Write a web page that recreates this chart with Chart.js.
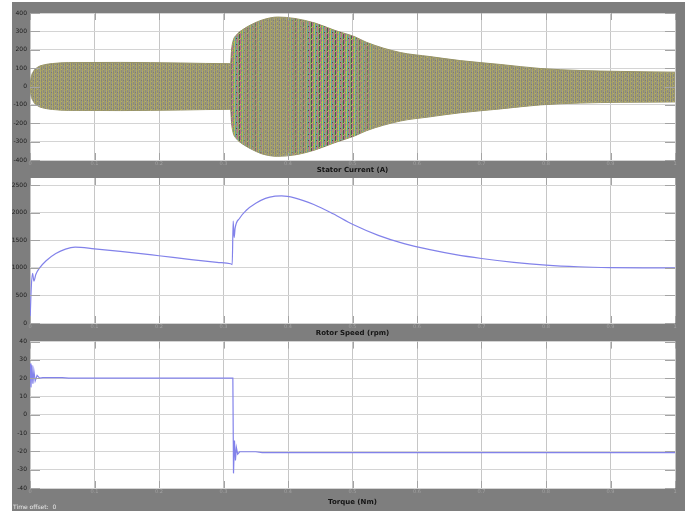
<!DOCTYPE html>
<html>
<head>
<meta charset="utf-8">
<script src="https://cdn.jsdelivr.net/npm/chart.js@4.4.0/dist/chart.umd.min.js"></script>
<style>
  html, body { margin: 0; padding: 0; background: #ffffff; width: 691px; height: 511px; overflow: hidden; }
  #frame { position: absolute; left: 12px; top: 2px; width: 673px; height: 509px; background: #7e7e7e; }
  canvas { position: absolute; left: 0; }
  #cCur { top: 0; }
  #cSpd { top: 170px; }
  #cTrq { top: 335px; }
  #offset { position: absolute; left: 13px; top: 503px; font: 6px "DejaVu Sans", sans-serif; color: #e8e8e8; white-space: nowrap; }
</style>
</head>
<body>
<div id="frame"></div>
<canvas id="cCur" width="691" height="178"></canvas>
<canvas id="cSpd" width="691" height="170"></canvas>
<canvas id="cTrq" width="691" height="176"></canvas>
<div id="offset">Time offset:&nbsp; 0</div>
<script>
// ---- time axis (s) ----
const timeTicks = [0, 0.1, 0.2, 0.3, 0.4, 0.5, 0.6, 0.7, 0.8, 0.9, 1.0];

// ---- stator current envelope (A) ----
const curTime  = [0, 0.0015, 0.005, 0.012, 0.022, 0.035, 0.06, 0.14, 0.233, 0.311, 0.3125, 0.315, 0.32, 0.33, 0.345, 0.36, 0.384, 0.411, 0.442, 0.473, 0.504, 0.522, 0.574, 0.62, 0.667, 0.729, 0.791, 0.853, 0.915, 1.0];
const curUpper = [0, 45, 80, 105, 118, 125, 130, 131, 128, 124, 200, 250, 280, 310, 340, 362, 378, 370, 345, 305, 270, 240, 185, 163, 141, 120, 98, 87, 82, 78];
const curLower = [0, -45, -80, -105, -118, -125, -130, -131, -128, -124, -200, -252, -284, -314, -344, -367, -380, -372, -345, -305, -268, -240, -188, -165, -143, -122, -100, -90, -86, -84];
const curTicks = [-400, -300, -200, -100, 0, 100, 200, 300, 400];

// ---- rotor speed (rpm) ----
const spdTime = [0, 0.002, 0.004, 0.006, 0.009, 0.015, 0.025, 0.04, 0.055, 0.07, 0.1, 0.14, 0.2, 0.25, 0.29, 0.311, 0.3135, 0.315, 0.3165, 0.318, 0.325, 0.335, 0.35, 0.365, 0.38, 0.39, 0.41, 0.44, 0.47, 0.5, 0.54, 0.58, 0.62, 0.66, 0.7, 0.75, 0.8, 0.85, 0.9, 0.95, 1.0];
const spdVal  = [0, 650, 900, 760, 880, 1000, 1130, 1260, 1340, 1375, 1345, 1300, 1220, 1150, 1100, 1075, 1060, 1850, 1550, 1720, 1900, 2040, 2170, 2260, 2300, 2305, 2270, 2150, 1980, 1790, 1590, 1440, 1330, 1240, 1170, 1100, 1050, 1020, 1005, 1000, 1000];
const spdTicks = [0, 500, 1000, 1500, 2000, 2500];

// ---- electromagnetic torque (Nm) ----
const trqTime = [0, 0.0015, 0.003, 0.0045, 0.006, 0.008, 0.011, 0.015, 0.02, 0.05, 0.06, 0.3145, 0.3155, 0.317, 0.3185, 0.32, 0.322, 0.325, 0.35, 0.36, 1.0];
const trqVal  = [28, 15, 27, 17, 24, 18.5, 21.5, 20, 20.3, 20.3, 20, 20, -32, -14, -25, -18, -21.5, -20.2, -20.2, -20.7, -20.7];
const trqTicks = [-40, -30, -20, -10, 0, 10, 20, 30, 40];

const pts = (xs, ys) => xs.map((x, i) => ({ x: x, y: ys[i] }));

// striped / speckled fills imitating the dense three-phase traces
function makePattern(cols, w, h, dots) {
  const c = document.createElement('canvas');
  c.width = w; c.height = h;
  const g = c.getContext('2d');
  cols.forEach((col, i) => { g.fillStyle = col; g.fillRect(i, 0, 1, h); });
  dots.forEach(d => { g.fillStyle = d[2]; g.fillRect(d[0], d[1], 1, 1); });
  return g.createPattern(c, 'repeat');
}
const olive = makePattern(
  ['#a8a266', '#8b8a80', '#9f9b6c', '#93928a', '#aea764', '#868580'], 6, 4,
  [[1, 1, '#b8b06a'], [4, 3, '#b4ad68'], [3, 0, '#7c7b76'], [5, 2, '#9c9868']]
);
const mixed = makePattern(
  ['#c85a9c', '#62b45e', '#d2c84c', '#4aa8bc', '#9a9870', '#cc6a98', '#6cb068', '#404040'], 8, 6,
  [[0, 2, '#d8d048'], [2, 4, '#d870ac'], [5, 1, '#58b8c8'], [7, 3, '#c8c050'],
   [3, 5, '#62c862'], [1, 0, '#a8a470'], [6, 4, '#a8a470'], [4, 2, '#303030']]
);

// white plot background
const plotBg = {
  id: 'plotBg',
  beforeDraw(chart) {
    const { ctx, chartArea: a } = chart;
    ctx.save();
    ctx.fillStyle = '#ffffff';
    ctx.fillRect(a.left, a.top, a.right - a.left, a.bottom - a.top);
    ctx.restore();
  }
};

// inward tick marks on all four sides of the plot box
const inwardTicks = {
  id: 'inwardTicks',
  afterDatasetsDraw(chart) {
    const { ctx, chartArea: a, scales: { x, y } } = chart;
    ctx.save();
    ctx.strokeStyle = '#a4a4a4';
    ctx.lineWidth = 1;
    ctx.beginPath();
    y.ticks.forEach(t => {
      const p = Math.round(y.getPixelForValue(t.value)) + 0.5;
      ctx.moveTo(a.left, p); ctx.lineTo(a.left + 10, p);
      ctx.moveTo(a.right, p); ctx.lineTo(a.right - 10, p);
    });
    x.ticks.forEach(t => {
      const p = Math.round(x.getPixelForValue(t.value)) + 0.5;
      ctx.moveTo(p, a.top); ctx.lineTo(p, a.top + 7);
      ctx.moveTo(p, a.bottom); ctx.lineTo(p, a.bottom - 7);
    });
    ctx.stroke();
    ctx.restore();
  }
};

// colour mixing zones where the phase traces interleave
const phaseMix = {
  id: 'phaseMix',
  afterDatasetsDraw(chart) {
    const { ctx, chartArea: a, scales: { x } } = chart;
    const up = chart.getDatasetMeta(0).data;
    const lo = chart.getDatasetMeta(1).data;
    ctx.save();
    ctx.beginPath();
    ctx.rect(a.left, a.top, a.right - a.left, a.bottom - a.top);
    ctx.clip();
    ctx.beginPath();
    up.forEach((p, i) => i ? ctx.lineTo(p.x, p.y) : ctx.moveTo(p.x, p.y));
    for (let i = lo.length - 1; i >= 0; i--) ctx.lineTo(lo[i].x, lo[i].y);
    ctx.closePath();
    ctx.clip();
    ctx.fillStyle = mixed;
    [[0.3125, 0.33, 0.7], [0.33, 0.36, 0.3], [0.43, 0.505, 0.75], [0.505, 0.53, 0.4], [0.40, 0.43, 0.35]].forEach(z => {
      const x0 = x.getPixelForValue(z[0]), x1 = x.getPixelForValue(z[1]);
      ctx.globalAlpha = z[2];
      ctx.fillRect(x0, a.top, x1 - x0, a.bottom - a.top);
    });
    ctx.restore();
  }
};

function makeOptions(yTicks, yMin, yMax, title, xHeight, padTop, titlePad) {
  return {
    responsive: false,
    animation: false,
    layout: { padding: { left: 0, right: 16, top: padTop, bottom: 0 } },
    plugins: { legend: { display: false }, tooltip: { enabled: false } },
    scales: {
      x: {
        type: 'linear', min: 0, max: 1,
        afterBuildTicks: s => { s.ticks = timeTicks.map(v => ({ value: v })); },
        afterFit: s => { s.height = xHeight; },
        grid: { color: '#c6c6c6', lineWidth: 1, drawTicks: false, borderDash: [2, 2] },
        border: { display: false },
        ticks: { color: '#a2a2a2', font: { family: 'DejaVu Sans', size: 5 }, padding: 1, maxRotation: 0, autoSkip: false, callback: v => String(v) },
        title: { display: true, text: title, color: '#141414', font: { family: 'DejaVu Sans', size: 7, weight: 'bold' }, padding: { top: 0, bottom: titlePad } }
      },
      y: {
        type: 'linear', min: yMin, max: yMax,
        afterBuildTicks: s => { s.ticks = yTicks.map(v => ({ value: v })); },
        afterFit: s => { s.width = 30; },
        grid: { color: '#d4d4d4', lineWidth: 1, drawTicks: false, borderDash: [2, 2] },
        border: { display: false },
        ticks: { color: '#1c1c1c', font: { family: 'DejaVu Sans', size: 6 }, padding: 3, callback: v => String(v) }
      }
    }
  };
}

const traceColor = '#8282ea';

new Chart(document.getElementById('cCur'), {
  type: 'line',
  data: {
    datasets: [
      { data: pts(curTime, curUpper), borderColor: '#979366', borderWidth: 1, pointRadius: 0, fill: '+1', backgroundColor: olive, cubicInterpolationMode: 'monotone' },
      { data: pts(curTime, curLower), borderColor: '#979366', borderWidth: 1, pointRadius: 0, fill: false, cubicInterpolationMode: 'monotone' }
    ]
  },
  options: makeOptions(curTicks, -400, 400, 'Stator Current (A)', 18, 13, 4),
  plugins: [plotBg, phaseMix, inwardTicks]
});

new Chart(document.getElementById('cSpd'), {
  type: 'line',
  data: { datasets: [{ data: pts(spdTime, spdVal), borderColor: traceColor, borderWidth: 1.2, pointRadius: 0, fill: false, cubicInterpolationMode: 'monotone' }] },
  options: makeOptions(spdTicks, 0, 2630, 'Rotor Speed (rpm)', 17, 8, 3),
  plugins: [plotBg, inwardTicks]
});

new Chart(document.getElementById('cTrq'), {
  type: 'line',
  data: { datasets: [{ data: pts(trqTime, trqVal), borderColor: traceColor, borderWidth: 1.2, pointRadius: 0, fill: false, tension: 0 }] },
  options: makeOptions(trqTicks, -40, 40, 'Torque (Nm)', 23, 6, 5),
  plugins: [plotBg, inwardTicks]
});
</script>
</body>
</html>
